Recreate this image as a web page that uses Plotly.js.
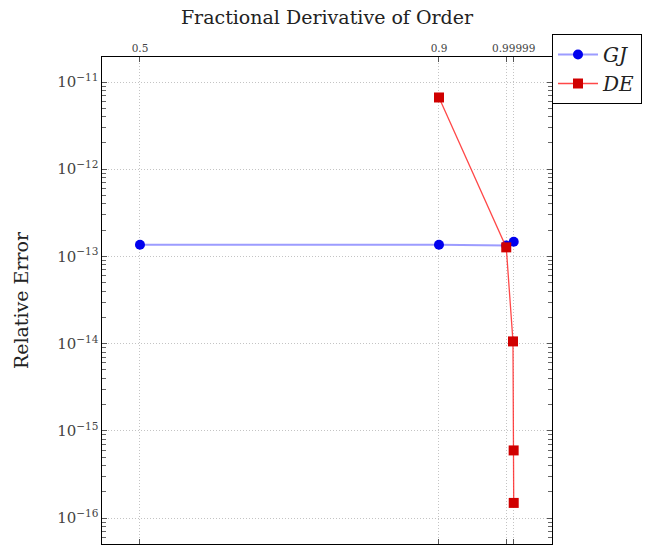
<!DOCTYPE html>
<html>
<head>
<meta charset="utf-8">
<script src="https://cdn.plot.ly/plotly-3.0.1.min.js"></script>
<style>html,body{margin:0;padding:0;background:#fff;}</style>
</head>
<body>
<div id="chart" style="width:662px;height:553px;"></div>
<script>
const gjOrder = [0.5, 0.9, 0.99, 0.99999];
const gjError = [1.36e-13, 1.36e-13, 1.33e-13, 1.47e-13];
const deOrder = [0.9, 0.99, 0.999, 0.9999, 0.99999];
const deError = [6.65e-12, 1.27e-13, 1.06e-14, 5.96e-16, 1.49e-16];
const xTickVals = [0.5, 0.9, 0.99, 0.99999];
const xTickText = ['0.5', '0.9', '', '0.99999'];
const yDecades = [-17, -16, -15, -14, -13, -12, -11];
const yMinorDigits = [2, 3, 4, 5, 6, 7, 8, 9];

const yMinorVals = [];
yDecades.forEach(d => yMinorDigits.forEach(m => yMinorVals.push(m * Math.pow(10, d))));

const serif = 'DejaVu Serif, Liberation Serif, serif';
const yRange = [-16.298, -10.713];

const traces = [
  {
    x: gjOrder, y: gjError, name: '<i>GJ</i>', type: 'scatter', mode: 'lines+markers',
    line: {color: 'rgba(90,90,255,0.6)', width: 2},
    marker: {color: '#0000ee', size: 10, symbol: 'circle'}
  },
  {
    x: deOrder, y: deError, name: '<i>DE</i>', type: 'scatter', mode: 'lines+markers',
    line: {color: 'rgba(255,40,40,0.85)', width: 1.3},
    marker: {color: '#d00000', size: 10, symbol: 'square'}
  },
  {
    x: [null], y: [null], yaxis: 'y2', showlegend: false, hoverinfo: 'skip',
    type: 'scatter', mode: 'markers'
  }
];

const layout = {
  width: 662, height: 553,
  margin: {l: 102, r: 110, t: 57, b: 9},
  paper_bgcolor: '#fff', plot_bgcolor: '#fff',
  font: {family: serif, color: '#222'},
  showlegend: true,
  legend: {
    xref: 'container', yref: 'container',
    x: 552 / 662, y: 1 - 34 / 553, xanchor: 'left', yanchor: 'top',
    bordercolor: '#000', borderwidth: 1, bgcolor: '#fff',
    font: {family: serif, size: 20, color: '#222'},
    itemwidth: 40, tracegroupgap: 2
  },
  xaxis: {
    side: 'top',
    automargin: false,
    range: [0.4492, 1.0512],
    tickmode: 'array', tickvals: xTickVals, ticktext: xTickText,
    ticks: 'inside', ticklen: 5, tickcolor: '#555',
    showline: true, linecolor: '#000', linewidth: 1.2, mirror: 'ticks',
    showgrid: true, gridcolor: '#c4c4c4', griddash: '1px,2px', gridwidth: 1,
    zeroline: false,
    tickfont: {family: serif, size: 10.5, color: '#444'},
    title: {text: 'Fractional Derivative of Order', font: {family: serif, size: 19, color: '#222'}, standoff: 12}
  },
  yaxis: {
    type: 'log',
    automargin: false,
    range: yRange,
    tickmode: 'linear', tick0: 0, dtick: 1,
    exponentformat: 'power', showexponent: 'all',
    ticks: 'inside', ticklen: 5, tickcolor: '#555',
    showline: true, linecolor: '#000', linewidth: 1.2, mirror: 'ticks',
    showgrid: true, gridcolor: '#c4c4c4', griddash: '1px,2px', gridwidth: 1,
    zeroline: false,
    tickfont: {family: serif, size: 12, color: '#444'},
    title: {text: 'Relative Error', font: {family: serif, size: 19, color: '#222'}, standoff: 23}
  },
  yaxis2: {
    type: 'log', overlaying: 'y', side: 'left',
    automargin: false,
    range: yRange,
    tickmode: 'array', tickvals: yMinorVals,
    showticklabels: false,
    ticks: 'inside', ticklen: 4, tickcolor: '#666', tickwidth: 1,
    showline: true, linecolor: '#000', linewidth: 1.2, mirror: 'ticks',
    showgrid: false, zeroline: false
  }
};

Plotly.newPlot('chart', traces, layout, {displayModeBar: false, staticPlot: true});
</script>
</body>
</html>
